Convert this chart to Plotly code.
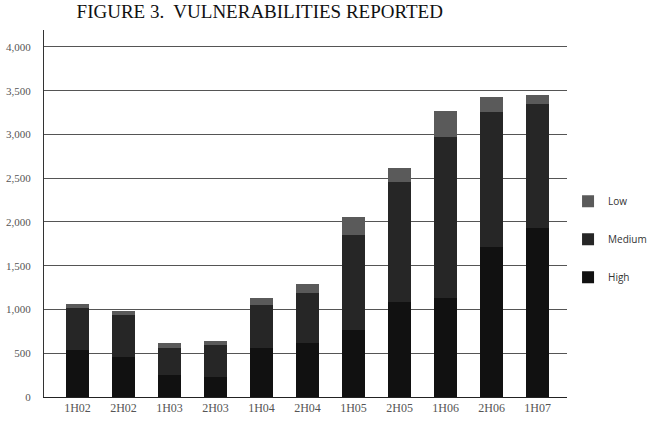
import plotly.graph_objects as go

categories = ["1H02", "2H02", "1H03", "2H03", "1H04", "2H04", "1H05", "2H05", "1H06", "2H06", "1H07"]
high = [540, 460, 250, 230, 560, 617, 766, 1086, 1131, 1714, 1931]
medium = [477, 477, 310, 364, 491, 572, 1085, 1371, 1840, 1543, 1418]
low = [46, 46, 57, 46, 80, 102, 206, 160, 298, 172, 102]
y_ticks = [0, 500, 1000, 1500, 2000, 2500, 3000, 3500, 4000]

fig = go.Figure()
series = [("High", high, "#111111", 3), ("Medium", medium, "#262626", 2), ("Low", low, "#5a5a5a", 1)]
for name, vals, col, rank in series:
    fig.add_trace(go.Bar(
        x=categories, y=vals, name=name, width=0.5,
        marker=dict(color=col, line=dict(width=0)),
        legendgroup=name, legendrank=rank,
    ))

fig.update_layout(
    width=656, height=424,
    barmode="stack",
    paper_bgcolor="white", plot_bgcolor="white",
    margin=dict(l=44, r=89, t=30, b=27, autoexpand=False),
    title=dict(text="FIGURE 3.  VULNERABILITIES REPORTED", x=0.396, xanchor="center",
               y=0.988, yanchor="top", xref="container", yref="container",
               font=dict(family="Liberation Serif", size=19, color="#111")),
    legend=dict(traceorder="grouped", x=1.002, xanchor="left", y=0.43, yanchor="middle",
                font=dict(family="Open Sans", size=10, color="#333"),
                tracegroupgap=19, itemwidth=30, bgcolor="rgba(0,0,0,0)"),
    showlegend=True,
    bargap=0.5,
)
fig.update_xaxes(range=[-0.728, 10.64], showline=True, linecolor="#222", linewidth=1,
                 ticks="", showgrid=False,
                 tickfont=dict(family="Liberation Serif", size=12, color="#555"))
fig.update_yaxes(range=[0, 4194], tickvals=y_ticks, tickformat=",", showline=True,
                 linecolor="#333", linewidth=1, showgrid=True, gridcolor="#555", gridwidth=1,
                 zeroline=False, ticks="", ticklabelstandoff=10,
                 tickfont=dict(family="Liberation Serif", size=11, color="#555"))

fig.write_html("out.html")
